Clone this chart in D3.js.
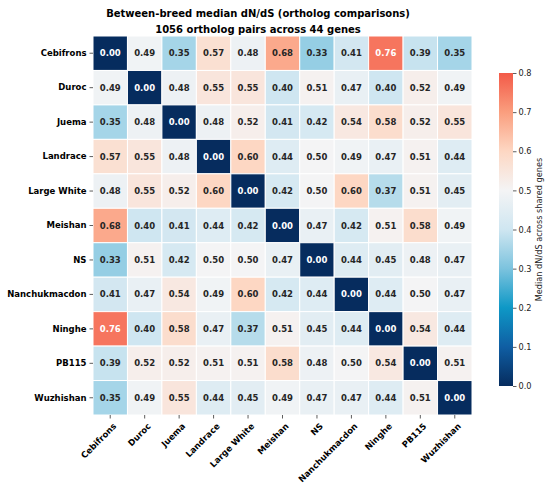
<!DOCTYPE html>
<html>
<head>
<meta charset="utf-8">
<script src="https://cdn.jsdelivr.net/npm/d3@7"></script>
<style>
  body { margin: 0; background: #fff; }
  svg { font-family: "DejaVu Sans", sans-serif; }
</style>
</head>
<body>
<div id="chart"></div>
<script>
var breeds = ["Cebifrons", "Duroc", "Juema", "Landrace", "Large White", "Meishan",
  "NS", "Nanchukmacdon", "Ninghe", "PB115", "Wuzhishan"];

// median dN/dS between breeds, row by row
var medianDnDs = [
  [0.00, 0.49, 0.35, 0.57, 0.48, 0.68, 0.33, 0.41, 0.76, 0.39, 0.35],
  [0.49, 0.00, 0.48, 0.55, 0.55, 0.40, 0.51, 0.47, 0.40, 0.52, 0.49],
  [0.35, 0.48, 0.00, 0.48, 0.52, 0.41, 0.42, 0.54, 0.58, 0.52, 0.55],
  [0.57, 0.55, 0.48, 0.00, 0.60, 0.44, 0.50, 0.49, 0.47, 0.51, 0.44],
  [0.48, 0.55, 0.52, 0.60, 0.00, 0.42, 0.50, 0.60, 0.37, 0.51, 0.45],
  [0.68, 0.40, 0.41, 0.44, 0.42, 0.00, 0.47, 0.42, 0.51, 0.58, 0.49],
  [0.33, 0.51, 0.42, 0.50, 0.50, 0.47, 0.00, 0.44, 0.45, 0.48, 0.47],
  [0.41, 0.47, 0.54, 0.49, 0.60, 0.42, 0.44, 0.00, 0.44, 0.50, 0.47],
  [0.76, 0.40, 0.58, 0.47, 0.37, 0.51, 0.45, 0.44, 0.00, 0.54, 0.44],
  [0.39, 0.52, 0.52, 0.51, 0.51, 0.58, 0.48, 0.50, 0.54, 0.00, 0.51],
  [0.35, 0.49, 0.55, 0.44, 0.45, 0.49, 0.47, 0.47, 0.44, 0.51, 0.00]
];

var colorbarTicks = [0.0, 0.1, 0.2, 0.3, 0.4, 0.5, 0.6, 0.7, 0.8];

// diverging map, white at 0.5
var colorStops = [0, 0.1, 0.2, 0.3, 0.4, 0.5, 0.6, 0.7, 0.8];
var colorValues = ["#062c5e", "#0f5ea3", "#0e98c6", "#7cc3de", "#cfe6f1",
  "#f4f4f5", "#fdd7c3", "#fa9e7e", "#f35a48"];

var W = 550, H = 489;
var mLeft = 93, mTop = 36, size = 379;
var labelSize = "8.5px";

var svg = d3.select("#chart").append("svg")
  .attr("width", W).attr("height", H);

var x = d3.scaleBand().domain(breeds).range([mLeft, mLeft + size]);
var y = d3.scaleBand().domain(breeds).range([mTop, mTop + size]);
var color = d3.scaleLinear().domain(colorStops).range(colorValues)
  .interpolate(d3.interpolateRgb).clamp(true);

var cells = [];
medianDnDs.forEach(function(row, i) {
  row.forEach(function(v, j) {
    cells.push({r: breeds[i], c: breeds[j], v: v});
  });
});

var lum = function(c) {
  var rgb = d3.rgb(c);
  var f = function(u) { u = u / 255; return u <= 0.03928 ? u / 12.92 : Math.pow((u + 0.055) / 1.055, 2.4); };
  return 0.2126 * f(rgb.r) + 0.7152 * f(rgb.g) + 0.0722 * f(rgb.b);
};

var g = svg.append("g");
g.selectAll("rect.cell")
  .data(cells)
  .enter().append("rect")
  .attr("class", "cell")
  .attr("x", function(d) { return x(d.c); })
  .attr("y", function(d) { return y(d.r); })
  .attr("width", x.bandwidth())
  .attr("height", y.bandwidth())
  .attr("fill", function(d) { return color(d.v); })
  .attr("stroke", "#fff")
  .attr("stroke-width", 1);

g.selectAll("text.ann")
  .data(cells)
  .enter().append("text")
  .attr("class", "ann")
  .attr("x", function(d) { return x(d.c) + x.bandwidth() / 2; })
  .attr("y", function(d) { return y(d.r) + y.bandwidth() / 2; })
  .attr("text-anchor", "middle")
  .attr("dominant-baseline", "central")
  .attr("font-size", labelSize)
  .attr("font-weight", "bold")
  .attr("fill", function(d) { return lum(color(d.v)) > 0.408 ? "#262626" : "#fff"; })
  .text(function(d) { return d.v.toFixed(2); });

// y axis
var yAxis = svg.append("g")
  .attr("transform", "translate(" + mLeft + ",0)")
  .call(d3.axisLeft(y).tickSize(3.5).tickPadding(3));
yAxis.select(".domain").remove();
yAxis.selectAll("line").attr("stroke", "#333").attr("stroke-width", 0.8);
yAxis.selectAll("text").attr("font-size", labelSize).attr("font-weight", "bold")
  .attr("fill", "#000").attr("font-family", "DejaVu Sans");

// x axis
var xAxis = svg.append("g")
  .attr("transform", "translate(0," + (mTop + size) + ")")
  .call(d3.axisBottom(x).tickSize(3.5).tickPadding(3));
xAxis.select(".domain").remove();
xAxis.selectAll("line").attr("stroke", "#333").attr("stroke-width", 0.8);
xAxis.selectAll("text")
  .attr("font-size", labelSize).attr("font-weight", "bold")
  .attr("fill", "#000").attr("font-family", "DejaVu Sans")
  .attr("text-anchor", "end")
  .attr("dy", "0.35em")
  .attr("transform", "translate(0,5) rotate(-45)");

// colorbar
var cbX = 499, cbW = 14, cbTop = 73, cbBot = 386;
var cb = d3.scaleLinear().domain([0, 0.8]).range([cbBot, cbTop]);
var defs = svg.append("defs");
var grad = defs.append("linearGradient").attr("id", "cbgrad")
  .attr("x1", 0).attr("y1", 1).attr("x2", 0).attr("y2", 0);
colorStops.forEach(function(s, i) {
  grad.append("stop").attr("offset", s / 0.8).attr("stop-color", colorValues[i]);
});
svg.append("rect")
  .attr("x", cbX).attr("y", cbTop)
  .attr("width", cbW).attr("height", cbBot - cbTop)
  .attr("fill", "url(#cbgrad)");
var cbAxis = svg.append("g")
  .attr("transform", "translate(" + (cbX + cbW) + ",0)")
  .call(d3.axisRight(cb).tickValues(colorbarTicks).tickFormat(d3.format(".1f")).tickSize(3.5).tickPadding(2));
cbAxis.select(".domain").remove();
cbAxis.selectAll("line").attr("stroke", "#333").attr("stroke-width", 0.8);
cbAxis.selectAll("text").attr("font-size", "8.2px").attr("fill", "#222")
  .attr("font-family", "DejaVu Sans");

svg.append("text")
  .attr("transform", "translate(539," + ((cbTop + cbBot) / 2) + ") rotate(-90)")
  .attr("text-anchor", "middle")
  .attr("dominant-baseline", "central")
  .attr("font-size", "8.2px")
  .attr("fill", "#222")
  .text("Median dN/dS across shared genes");

// title
svg.append("text")
  .attr("x", 258).attr("y", 17)
  .attr("text-anchor", "middle")
  .attr("font-size", "10px").attr("font-weight", "bold")
  .text("Between-breed median dN/dS (ortholog comparisons)");
svg.append("text")
  .attr("x", 258).attr("y", 33)
  .attr("text-anchor", "middle")
  .attr("font-size", "10px").attr("font-weight", "bold")
  .text("1056 ortholog pairs across 44 genes");
</script>
</body>
</html>
